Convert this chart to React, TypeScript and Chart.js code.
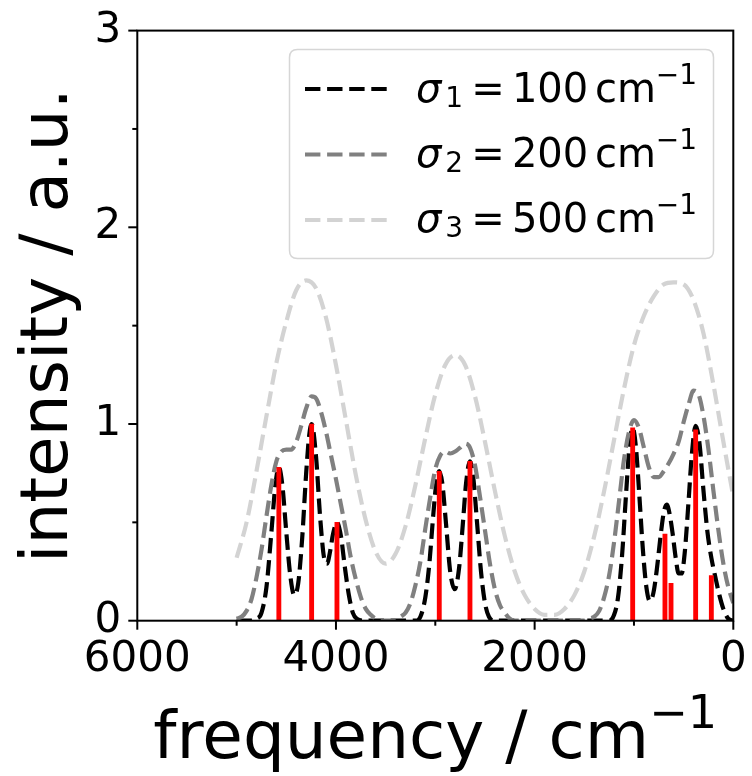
import React, { useEffect, useRef } from "react";
import { Chart, registerables } from "chart.js";

Chart.register(...registerables);

// ---- data ----
const stickFreq = [4575, 4245, 3990, 2960, 2651, 1013, 688, 627, 379, 221];
const stickInt = [0.78, 1.0, 0.5, 0.76, 0.81, 0.98, 0.44, 0.19, 0.97, 0.23];

const sigma1Freq = [5000, 4850, 4800, 4750, 4700, 4650, 4610, 4575, 4540, 4500, 4460, 4420, 4380, 4340, 4300, 4270, 4245, 4200, 4160, 4120, 4090, 4060, 4030, 3990, 3950, 3910, 3870, 3830, 3790, 3700, 3250, 3200, 3150, 3100, 3060, 3020, 2990, 2960, 2930, 2890, 2850, 2805, 2760, 2720, 2690, 2651, 2620, 2580, 2540, 2500, 2460, 2400, 1300, 1250, 1200, 1160, 1120, 1080, 1045, 1013, 980, 945, 910, 875, 840, 805, 770, 730, 700, 670, 640, 610, 580, 550, 520, 490, 450, 420, 379, 340, 300, 260, 221, 180, 140, 100, 50, 0];
const sigma1Int = [0, 0, 0.01, 0.04, 0.17, 0.45, 0.69, 0.78, 0.69, 0.45, 0.23, 0.13, 0.19, 0.42, 0.75, 0.94, 1.0, 0.83, 0.53, 0.32, 0.29, 0.35, 0.44, 0.5, 0.43, 0.27, 0.13, 0.04, 0.01, 0, 0, 0, 0.02, 0.12, 0.29, 0.54, 0.7, 0.76, 0.7, 0.48, 0.25, 0.16, 0.27, 0.51, 0.7, 0.81, 0.74, 0.5, 0.25, 0.09, 0.02, 0, 0, 0, 0.03, 0.12, 0.33, 0.64, 0.89, 0.98, 0.88, 0.63, 0.36, 0.17, 0.1, 0.14, 0.26, 0.44, 0.55, 0.59, 0.54, 0.44, 0.32, 0.24, 0.24, 0.34, 0.61, 0.83, 0.99, 0.9, 0.66, 0.45, 0.32, 0.22, 0.13, 0.06, 0.01, 0];

const sigma2Freq = [5000, 4950, 4900, 4850, 4800, 4750, 4700, 4650, 4600, 4550, 4500, 4450, 4400, 4350, 4300, 4245, 4200, 4150, 4100, 4050, 4000, 3950, 3900, 3850, 3800, 3750, 3700, 3650, 3600, 3500, 3400, 3350, 3300, 3250, 3200, 3150, 3100, 3050, 3000, 2950, 2900, 2850, 2800, 2750, 2700, 2651, 2600, 2550, 2500, 2450, 2400, 2350, 2300, 2250, 2200, 1500, 1450, 1400, 1350, 1300, 1250, 1200, 1150, 1100, 1050, 1000, 950, 900, 850, 800, 750, 700, 650, 600, 550, 500, 450, 400, 350, 300, 250, 200, 150, 100, 50, 0];
const sigma2Int = [0.01, 0.02, 0.05, 0.11, 0.22, 0.36, 0.53, 0.69, 0.81, 0.86, 0.87, 0.87, 0.91, 0.99, 1.08, 1.14, 1.13, 1.06, 0.96, 0.84, 0.72, 0.59, 0.46, 0.32, 0.21, 0.12, 0.06, 0.03, 0.01, 0, 0, 0.02, 0.04, 0.09, 0.18, 0.3, 0.47, 0.63, 0.77, 0.84, 0.86, 0.85, 0.86, 0.88, 0.9, 0.88, 0.79, 0.63, 0.46, 0.29, 0.16, 0.08, 0.04, 0.01, 0, 0, 0.01, 0.02, 0.05, 0.12, 0.23, 0.4, 0.61, 0.82, 0.96, 1.02, 0.98, 0.88, 0.78, 0.73, 0.73, 0.76, 0.8, 0.85, 0.91, 1.01, 1.1, 1.17, 1.15, 1.04, 0.87, 0.66, 0.46, 0.29, 0.17, 0.09];

const sigma3Freq = [5000, 4900, 4800, 4700, 4600, 4500, 4400, 4300, 4200, 4100, 4000, 3900, 3800, 3700, 3600, 3500, 3400, 3300, 3200, 3100, 3000, 2900, 2800, 2700, 2600, 2500, 2400, 2300, 2200, 2100, 2000, 1900, 1800, 1700, 1600, 1500, 1400, 1300, 1200, 1100, 1000, 900, 800, 700, 600, 500, 400, 300, 200, 100, 0];
const sigma3Int = [0.32, 0.5, 0.76, 1.04, 1.31, 1.52, 1.68, 1.73, 1.69, 1.54, 1.3, 1.02, 0.74, 0.51, 0.35, 0.29, 0.34, 0.48, 0.69, 0.93, 1.15, 1.3, 1.35, 1.3, 1.14, 0.91, 0.66, 0.43, 0.25, 0.13, 0.06, 0.03, 0.03, 0.06, 0.13, 0.25, 0.43, 0.66, 0.92, 1.18, 1.4, 1.55, 1.65, 1.71, 1.72, 1.71, 1.63, 1.46, 1.2, 0.91, 0.63];

const seriesLabels = ["1", "2", "3"];
const seriesSigmas = ["100", "200", "500"];
const seriesColors = ["#000000", "#808080", "#d3d3d3"];

const xMajorTicks = [0, 2000, 4000, 6000];
const xMinorTicks = [1000, 3000, 5000];
const yMajorTicks = [0, 1, 2, 3];
const yMinorTicks = [0.5, 1.5, 2.5];

const FONT = '"DejaVu Sans"';
const TICK_FONT = 42;
const LABEL_FONT = 66;
const LEG_FONT = 40;
const LW = 4.2;
const DASH = [15.4, 6.7];

const toPoints = (xs: number[], ys: number[]) => xs.map((x, i) => ({ x, y: ys[i] }));

function drawMathLabel(ctx: CanvasRenderingContext2D, x: number, base: number, sub: string, val: string, F: number) {
  ctx.fillStyle = "#000";
  ctx.textAlign = "left";
  ctx.textBaseline = "alphabetic";
  ctx.font = `italic ${F}px ${FONT}`;
  ctx.fillText("σ", x, base);
  x += ctx.measureText("σ").width + 0.1 * F;
  const s = 0.7 * F;
  ctx.font = `${s}px ${FONT}`;
  ctx.fillText(sub, x, base + 0.13 * F);
  x += ctx.measureText(sub).width + 0.2 * F;
  ctx.font = `${F}px ${FONT}`;
  ctx.fillText("=", x, base);
  x += ctx.measureText("=").width + 0.18 * F;
  ctx.fillText(val, x, base);
  x += ctx.measureText(val).width + F / 6;
  ctx.fillText("cm", x, base);
  x += ctx.measureText("cm").width;
  ctx.font = `${s}px ${FONT}`;
  ctx.fillText("−1", x, base - 0.45 * F);
}

const decorPlugin = {
  id: "decor",
  afterDraw(chart: any) {
    const ctx: CanvasRenderingContext2D = chart.ctx;
    const { left, right, top, bottom } = chart.chartArea;
    const xs = chart.scales.x;
    const ys = chart.scales.y;
    ctx.save();
    // spines
    ctx.strokeStyle = "#000";
    ctx.lineWidth = 2;
    ctx.setLineDash([]);
    ctx.strokeRect(left, top, right - left, bottom - top);
    // ticks
    const tick = (x1: number, y1: number, x2: number, y2: number) => {
      ctx.beginPath();
      ctx.moveTo(x1, y1);
      ctx.lineTo(x2, y2);
      ctx.stroke();
    };
    xMajorTicks.forEach((v) => { const p = xs.getPixelForValue(v); tick(p, bottom, p, bottom + 9); });
    xMinorTicks.forEach((v) => { const p = xs.getPixelForValue(v); tick(p, bottom, p, bottom + 5); });
    yMajorTicks.forEach((v) => { const p = ys.getPixelForValue(v); tick(left, p, left - 9, p); });
    yMinorTicks.forEach((v) => { const p = ys.getPixelForValue(v); tick(left, p, left - 5, p); });

    // axis titles
    ctx.fillStyle = "#000";
    ctx.font = `${LABEL_FONT}px ${FONT}`;
    ctx.textBaseline = "alphabetic";
    const main = "frequency / cm";
    const supF = LABEL_FONT * 0.7;
    const wMain = ctx.measureText(main).width;
    ctx.font = `${supF}px ${FONT}`;
    const wSup = ctx.measureText("−1").width;
    const cx = (left + right) / 2;
    const x0 = cx - (wMain + wSup) / 2;
    ctx.font = `${LABEL_FONT}px ${FONT}`;
    ctx.textAlign = "left";
    ctx.fillText(main, x0, 758);
    ctx.font = `${supF}px ${FONT}`;
    ctx.fillText("−1", x0 + wMain, 758 - 0.45 * LABEL_FONT);
    ctx.save();
    ctx.translate(67, (top + bottom) / 2);
    ctx.rotate(-Math.PI / 2);
    ctx.font = `${LABEL_FONT}px ${FONT}`;
    ctx.textAlign = "center";
    ctx.fillText("intensity / a.u.", 0, 0);
    ctx.restore();

    // legend
    const bx = 289.5, by = 49.5, bw = 424, bh = 209, r = 8;
    ctx.beginPath();
    ctx.moveTo(bx + r, by);
    ctx.lineTo(bx + bw - r, by);
    ctx.quadraticCurveTo(bx + bw, by, bx + bw, by + r);
    ctx.lineTo(bx + bw, by + bh - r);
    ctx.quadraticCurveTo(bx + bw, by + bh, bx + bw - r, by + bh);
    ctx.lineTo(bx + r, by + bh);
    ctx.quadraticCurveTo(bx, by + bh, bx, by + bh - r);
    ctx.lineTo(bx, by + r);
    ctx.quadraticCurveTo(bx, by, bx + r, by);
    ctx.closePath();
    ctx.fillStyle = "rgba(255,255,255,0.8)";
    ctx.fill();
    ctx.strokeStyle = "#d6d6d6";
    ctx.lineWidth = 1.5;
    ctx.stroke();
    seriesLabels.forEach((lab, i) => {
      const ly = 89 + i * 65.5;
      ctx.strokeStyle = seriesColors[i];
      ctx.lineWidth = LW;
      ctx.setLineDash(DASH);
      ctx.beginPath();
      ctx.moveTo(305, ly);
      ctx.lineTo(388, ly);
      ctx.stroke();
      ctx.setLineDash([]);
      drawMathLabel(ctx, 416, 101.5 + i * 65, lab, seriesSigmas[i], LEG_FONT);
    });
    ctx.restore();
  },
};

const zeroPad = (s: any) => {
  s.paddingTop = 0;
  s.paddingBottom = 0;
  s.paddingLeft = 0;
  s.paddingRight = 0;
};

export default function App() {
  const ref = useRef<HTMLCanvasElement | null>(null);
  useEffect(() => {
    if (!ref.current) return;
    const lineDs = (xs: number[], ys: number[], color: string, order: number) => ({
      type: "line" as const,
      data: toPoints(xs, ys),
      borderColor: color,
      borderWidth: LW,
      borderDash: DASH,
      pointRadius: 0,
      fill: false,
      cubicInterpolationMode: "monotone" as const,
      order,
    });
    const chart = new Chart(ref.current, {
      type: "line",
      data: {
        datasets: [
          {
            type: "bar",
            data: toPoints(stickFreq, stickInt),
            backgroundColor: "#ff0000",
            borderWidth: 0,
            barThickness: 4.2,
            order: 0,
          } as any,
          lineDs(sigma1Freq, sigma1Int, seriesColors[0], 3),
          lineDs(sigma2Freq, sigma2Int, seriesColors[1], 2),
          lineDs(sigma3Freq, sigma3Int, seriesColors[2], 1),
        ],
      },
      options: {
        animation: false,
        responsive: false,
        devicePixelRatio: 1,
        layout: { padding: { top: 30.6, right: 18.7, left: 0, bottom: 0 } },
        plugins: { legend: { display: false }, tooltip: { enabled: false } },
        scales: {
          x: {
            type: "linear",
            min: 0,
            max: 6000,
            reverse: true,
            offset: false,
            grid: { display: false, drawTicks: false },
            border: { display: false },
            ticks: {
              stepSize: 2000,
              padding: 14,
              color: "#000",
              font: { family: "DejaVu Sans", size: TICK_FONT },
              maxRotation: 0,
              callback: (v: any) => String(v),
            },
            afterFit: (s: any) => { s.height = 155.3; zeroPad(s); },
          },
          y: {
            type: "linear",
            min: 0,
            max: 3,
            grid: { display: false, drawTicks: false },
            border: { display: false },
            ticks: {
              stepSize: 1,
              padding: 16,
              color: "#000",
              font: { family: "DejaVu Sans", size: TICK_FONT },
              callback: (v: any) => String(v),
            },
            afterFit: (s: any) => { s.width = 137.3; zeroPad(s); },
          },
        },
      },
      plugins: [decorPlugin],
    });
    return () => chart.destroy();
  }, []);
  return (
    <canvas
      ref={ref}
      width={752}
      height={776}
      style={{ position: "absolute", left: 0, top: 0, width: 752, height: 776, display: "block" }}
    />
  );
}
